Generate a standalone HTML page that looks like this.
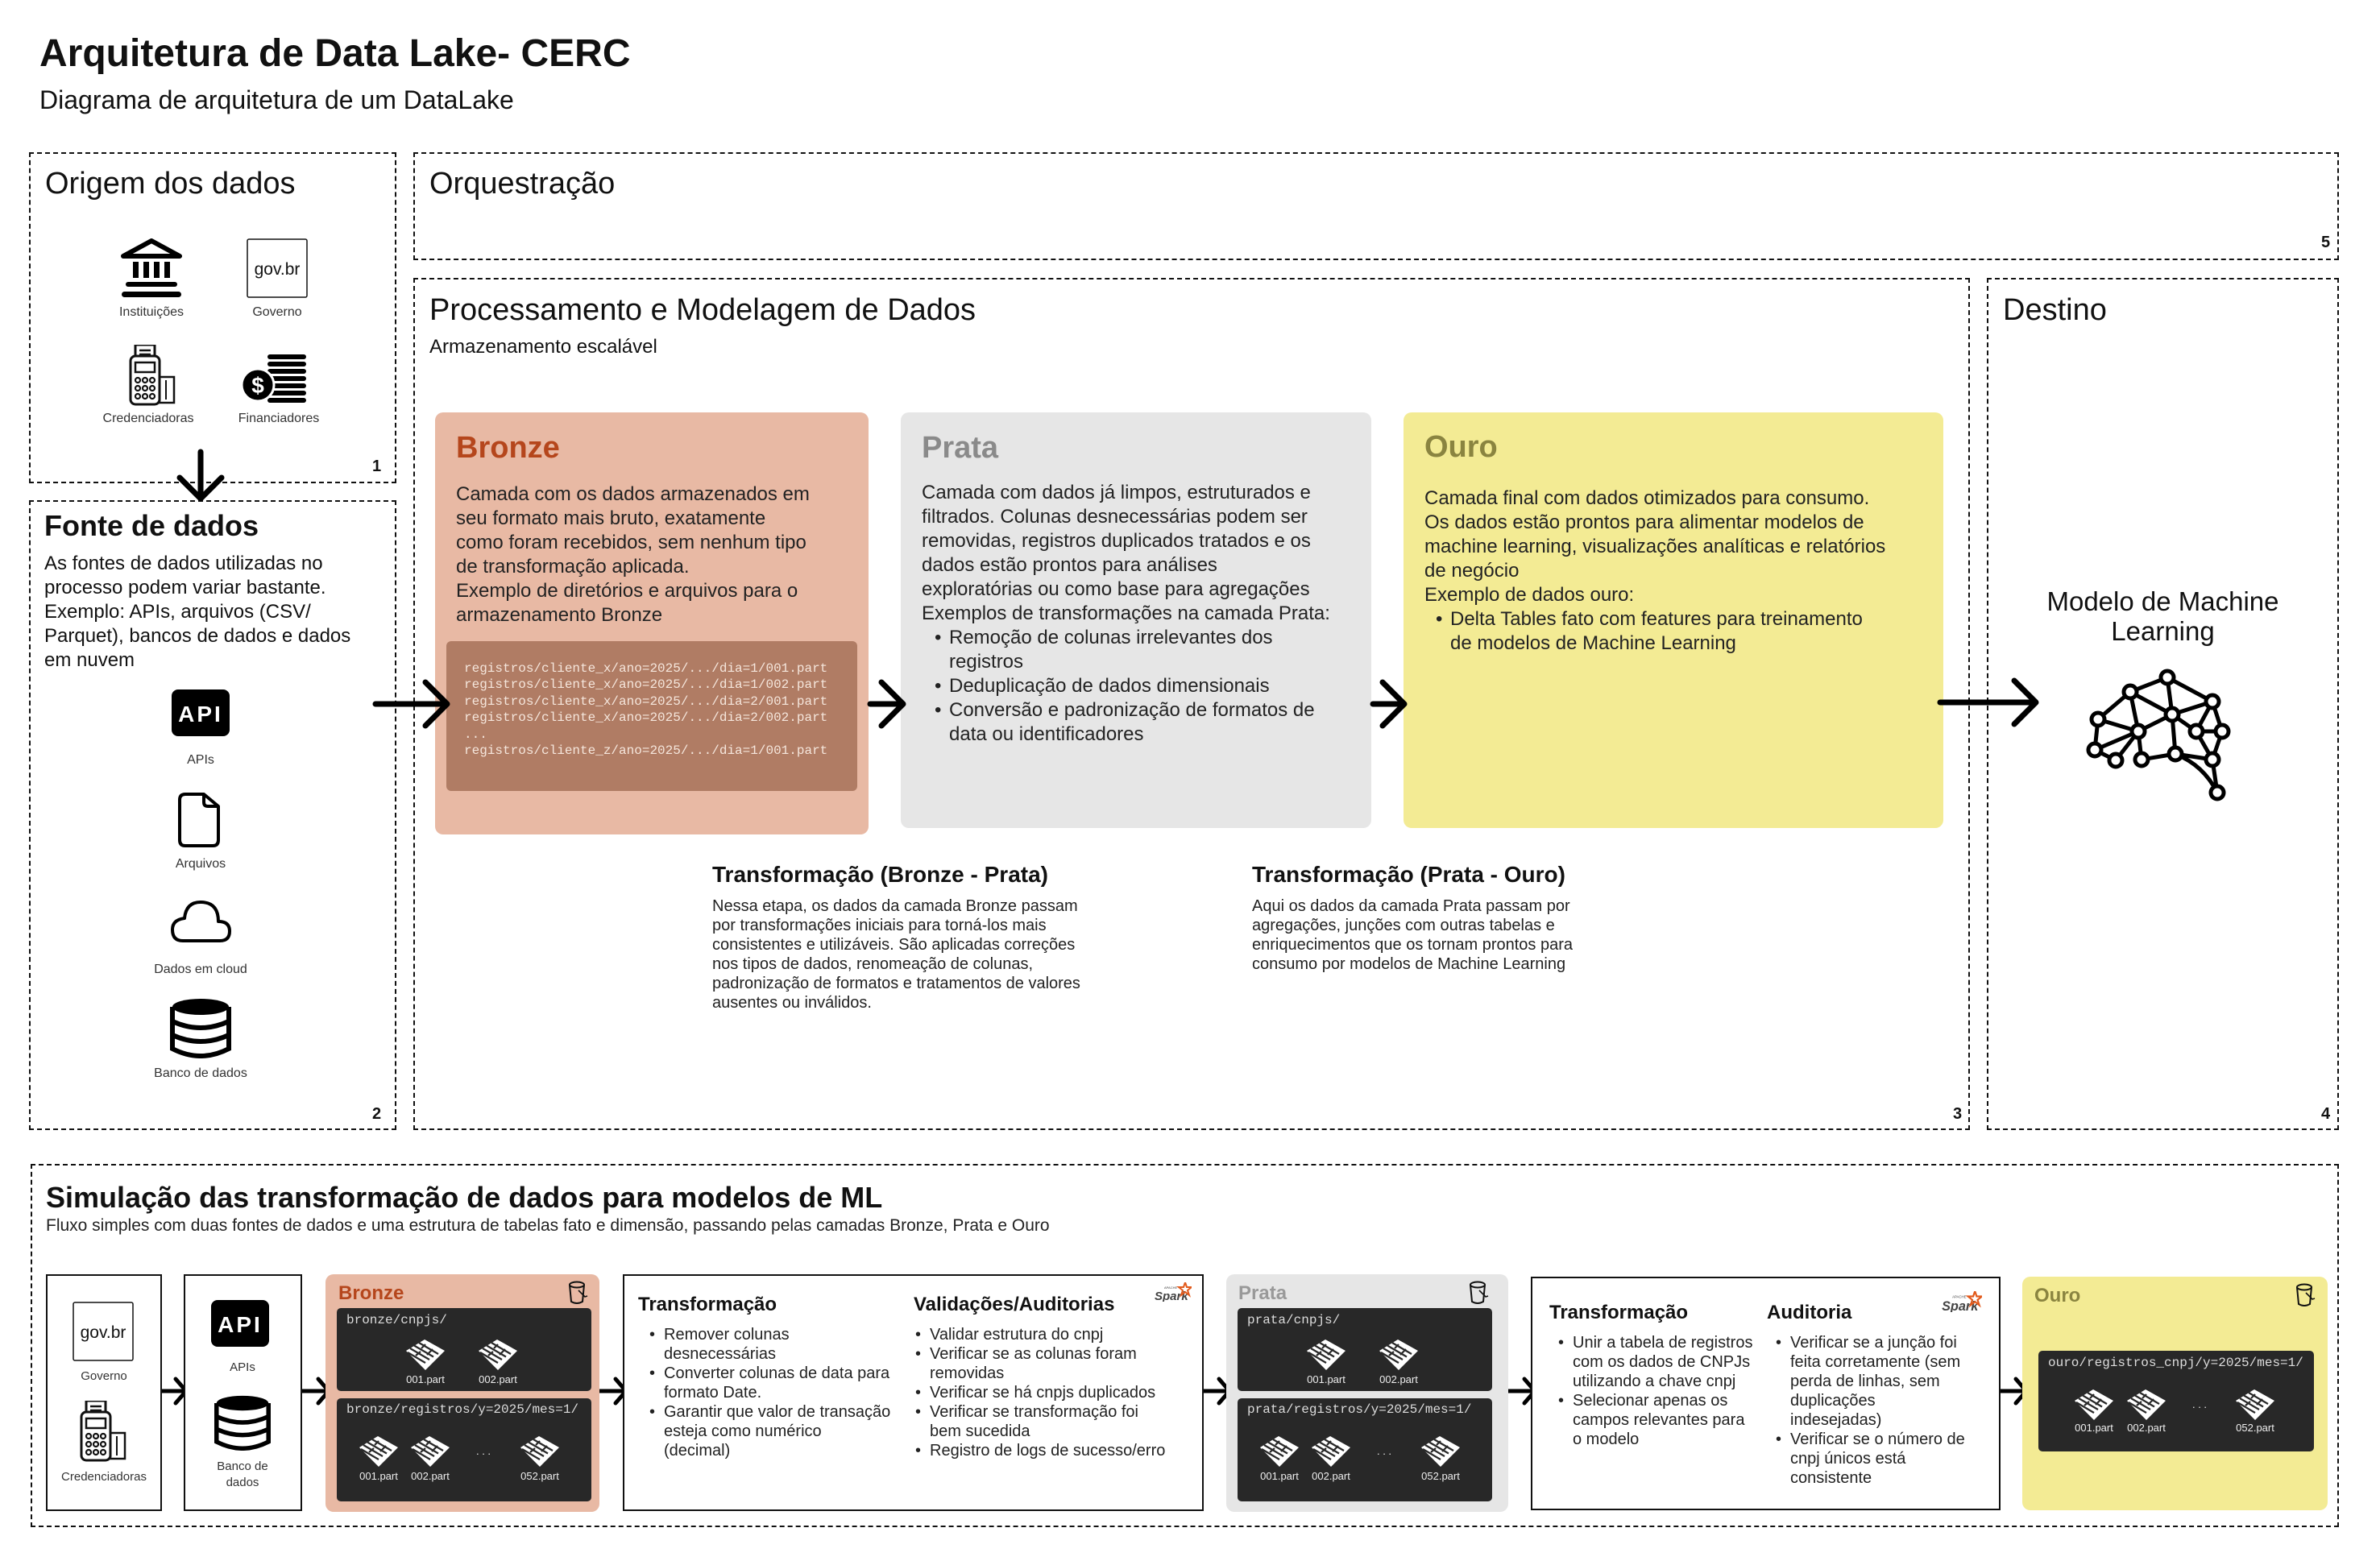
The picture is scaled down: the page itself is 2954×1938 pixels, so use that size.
<!DOCTYPE html>
<html><head><meta charset="utf-8">
<style>
*{margin:0;padding:0;box-sizing:border-box}
body{width:2954px;height:1938px;background:#fff;position:relative;overflow:hidden;font-family:"Liberation Sans",sans-serif;color:#111}
.a{position:absolute;white-space:nowrap}
.dash{position:absolute;border:2px dashed #111}
.card{position:absolute;border-radius:10px}
.box{position:absolute;border:2px solid #111;background:#fff}
.dark{position:absolute;background:#282828;border-radius:5px}
.mono{font-family:"Liberation Mono",monospace}
.lbl{font-size:16px;color:#333;text-align:center}
ul{list-style:none}
.bl li{position:relative;padding-left:18px}
.bl li:before{content:"•";position:absolute;left:0}
</style></head><body>
<svg width="0" height="0" style="position:absolute">
<defs>
<symbol id="pq" viewBox="0 0 48 38">
<polygon points="23,0 48,14 24,38 0,14" fill="#fff"/>
<g stroke="#282828" stroke-width="2.2">
<line x1="16" y1="4" x2="40" y2="18"/><line x1="10" y1="7.5" x2="34" y2="21.5"/><line x1="5" y1="11" x2="29" y2="25"/><line x1="2" y1="16" x2="24" y2="29"/>
<line x1="24" y1="6" x2="19" y2="11"/><line x1="33" y1="12" x2="26" y2="19"/><line x1="18" y1="15" x2="12" y2="20"/>
</g>
</symbol>
<symbol id="bk" viewBox="0 0 26 30">
<ellipse cx="12" cy="5" rx="9" ry="3.5" fill="none" stroke="#111" stroke-width="2"/>
<path d="M3 5 L5 26 Q12 30 19 26 L21 5" fill="none" stroke="#111" stroke-width="2"/>
<path d="M14 12 L22 20 L25 19" fill="none" stroke="#111" stroke-width="1.6"/>
</symbol>
<symbol id="sp" viewBox="0 0 46 24">
<text x="0" y="22" font-family="Liberation Sans" font-size="15" font-style="italic" font-weight="bold" fill="#444">Spark</text>
<text x="12" y="8" font-family="Liberation Sans" font-size="4" fill="#444">APACHE</text>
<polygon points="38,0 40,6 46,6 41,10 43,16 38,12 33,16 35,10 30,6 36,6" fill="none" stroke="#e25a1c" stroke-width="2"/>
</symbol>
<symbol id="api" viewBox="0 0 72 58">
<rect x="0" y="0" width="72" height="58" rx="8" fill="#000"/>
<text x="36" y="40" text-anchor="middle" font-family="Liberation Sans" font-weight="bold" font-size="28" fill="#fff" letter-spacing="3">API</text>
</symbol>
<symbol id="db" viewBox="0 0 76 76">
<path d="M3 12 L3 64 Q38 82 73 64 L73 12" fill="#fff" stroke="#000" stroke-width="6"/>
<ellipse cx="38" cy="12" rx="35" ry="10" fill="#000"/>
<path d="M3 30 Q38 46 73 30 M3 47 Q38 63 73 47" fill="none" stroke="#000" stroke-width="6"/>
</symbol>
<symbol id="pos" viewBox="0 0 60 76">
<rect x="8" y="0" width="24" height="18" fill="none" stroke="#111" stroke-width="3"/>
<path d="M13 7h14M13 12h14" stroke="#111" stroke-width="2.5"/>
<rect x="2" y="14" width="36" height="60" rx="6" fill="#fff" stroke="#111" stroke-width="3"/>
<rect x="8" y="22" width="24" height="12" fill="none" stroke="#111" stroke-width="2.5"/>
<g fill="none" stroke="#111" stroke-width="2.2"><circle cx="11" cy="44" r="3"/><circle cx="20" cy="44" r="3"/><circle cx="29" cy="44" r="3"/><circle cx="11" cy="54" r="3"/><circle cx="20" cy="54" r="3"/><circle cx="29" cy="54" r="3"/><circle cx="11" cy="64" r="3"/><circle cx="20" cy="64" r="3"/><circle cx="29" cy="64" r="3"/></g>
<rect x="38" y="40" width="18" height="32" fill="none" stroke="#111" stroke-width="2.5"/>
<path d="M46 44v24" stroke="#111" stroke-width="2"/>
</symbol>
<symbol id="gov" viewBox="0 0 76 74">
<rect x="1" y="1" width="74" height="72" rx="2" fill="#fff" stroke="#111" stroke-width="1.5"/>
<text x="38" y="45" text-anchor="middle" font-family="Liberation Sans" font-size="21" fill="#111">gov.br</text>
</symbol>
</defs>
</svg>

<div class="a" style="left:49px;top:39px;font-size:48px;font-weight:bold">Arquitetura de Data Lake- CERC</div>
<div class="a" style="left:49px;top:106px;font-size:32px">Diagrama de arquitetura de um DataLake</div>

<div class="dash" style="left:36px;top:189px;width:456px;height:411px"></div>
<div class="dash" style="left:513px;top:189px;width:2390px;height:134px"></div>
<div class="dash" style="left:36px;top:621px;width:456px;height:782px"></div>
<div class="dash" style="left:513px;top:345px;width:1932px;height:1058px"></div>
<div class="dash" style="left:2466px;top:345px;width:437px;height:1058px"></div>
<div class="dash" style="left:38px;top:1445px;width:2865px;height:451px"></div>

<div class="a" style="left:56px;top:207px;font-size:38px">Origem dos dados</div>
<div class="a" style="left:533px;top:207px;font-size:38px">Orquestração</div>
<div class="a" style="left:533px;top:364px;font-size:38px">Processamento e Modelagem de Dados</div>
<div class="a" style="left:533px;top:417px;font-size:24px">Armazenamento escalável</div>
<div class="a" style="left:2486px;top:364px;font-size:38px">Destino</div>
<div class="a" style="left:55px;top:632px;font-size:36px;font-weight:bold">Fonte de dados</div>

<div class="a" style="left:462px;top:568px;font-size:20px;font-weight:bold">1</div>
<div class="a" style="left:462px;top:1372px;font-size:20px;font-weight:bold">2</div>
<div class="a" style="left:2424px;top:1372px;font-size:20px;font-weight:bold">3</div>
<div class="a" style="left:2881px;top:1372px;font-size:20px;font-weight:bold">4</div>
<div class="a" style="left:2881px;top:290px;font-size:20px;font-weight:bold">5</div>

<svg class="a" style="left:150px;top:296px" width="76" height="74" viewBox="0 0 76 74">
<polygon points="38,3 73,22 3,22" fill="none" stroke="#000" stroke-width="6" stroke-linejoin="round"/>
<g fill="#000"><rect x="15" y="29" width="7" height="20"/><rect x="28" y="29" width="7" height="20"/><rect x="41" y="29" width="7" height="20"/><rect x="54" y="29" width="7" height="20"/>
<rect x="6" y="54" width="64" height="6" rx="3"/><rect x="1" y="66" width="74" height="7" rx="3.5"/></g>
</svg>
<svg class="a" style="left:306px;top:296px" width="76" height="74"><use href="#gov"/></svg>
<div class="a lbl" style="left:128px;top:379px;width:120px">Instituições</div>
<div class="a lbl" style="left:284px;top:379px;width:120px">Governo</div>
<svg class="a" style="left:160px;top:428px" width="60" height="76"><use href="#pos"/></svg>
<svg class="a" style="left:300px;top:440px" width="80" height="60" viewBox="0 0 80 60">
<g fill="#000"><rect x="32" y="0" width="48" height="6" rx="3"/><rect x="32" y="9" width="48" height="6" rx="3"/><rect x="32" y="18" width="48" height="6" rx="3"/><rect x="32" y="27" width="48" height="6" rx="3"/><rect x="32" y="36" width="48" height="6" rx="3"/><rect x="32" y="45" width="48" height="6" rx="3"/><rect x="32" y="54" width="48" height="6" rx="3"/></g>
<circle cx="20" cy="38" r="20" fill="#000" stroke="#fff" stroke-width="3"/>
<text x="20" y="48" text-anchor="middle" font-family="Liberation Sans" font-weight="bold" font-size="28" fill="#fff">$</text>
</svg>
<div class="a lbl" style="left:124px;top:511px;width:120px">Credenciadoras</div>
<div class="a lbl" style="left:286px;top:511px;width:120px">Financiadores</div>

<div class="a" style="left:55px;top:685px;font-size:24px;line-height:30px;white-space:normal;width:420px">As fontes de dados utilizadas no<br>processo podem variar bastante.<br>Exemplo: APIs, arquivos (CSV/<br>Parquet), bancos de dados e dados<br>em nuvem</div>
<svg class="a" style="left:213px;top:856px" width="72" height="58"><use href="#api"/></svg>
<div class="a lbl" style="left:189px;top:935px;width:120px">APIs</div>
<svg class="a" style="left:220px;top:983px" width="54" height="70" viewBox="0 0 54 70"><path d="M10 3 H33 L51 18 V60 Q51 67 44 67 H10 Q3 67 3 60 V10 Q3 3 10 3 Z M33 3 V13 Q33 18 38 18 H51" fill="none" stroke="#000" stroke-width="4" stroke-linejoin="round"/></svg>
<div class="a lbl" style="left:189px;top:1064px;width:120px">Arquivos</div>
<svg class="a" style="left:211px;top:1116px" width="76" height="56" viewBox="0 0 76 56"><path d="M16 52 H62 Q74 52 74 40 Q74 28 60 28 Q60 4 38 4 Q20 4 18 24 Q3 26 3 38 Q3 52 16 52 Z" fill="none" stroke="#000" stroke-width="4" stroke-linejoin="round"/></svg>
<div class="a lbl" style="left:169px;top:1195px;width:160px">Dados em cloud</div>
<svg class="a" style="left:211px;top:1238px" width="76" height="76"><use href="#db"/></svg>
<div class="a lbl" style="left:169px;top:1324px;width:160px">Banco de dados</div>

<div class="card" style="left:540px;top:512px;width:538px;height:524px;background:#e8b9a4"></div>
<div class="a" style="left:566px;top:535px;font-size:38px;font-weight:bold;color:#b5461c">Bronze</div>
<div class="a" style="left:566px;top:599px;font-size:24px;line-height:30px;color:#222">Camada com os dados armazenados em<br>seu formato mais bruto, exatamente<br>como foram recebidos, sem nenhum tipo<br>de transformação aplicada.<br>Exemplo de diretórios e arquivos para o<br>armazenamento Bronze</div>
<div class="card" style="left:554px;top:796px;width:510px;height:186px;background:#b07c64;border-radius:6px"></div>
<div class="a mono" style="left:576px;top:820px;font-size:16px;line-height:20.4px;color:#f5e6dc">registros/cliente_x/ano=2025/.../dia=1/001.part<br>registros/cliente_x/ano=2025/.../dia=1/002.part<br>registros/cliente_x/ano=2025/.../dia=2/001.part<br>registros/cliente_x/ano=2025/.../dia=2/002.part<br>...<br>registros/cliente_z/ano=2025/.../dia=1/001.part</div>

<div class="card" style="left:1118px;top:512px;width:584px;height:516px;background:#e6e6e6"></div>
<div class="a" style="left:1144px;top:535px;font-size:38px;font-weight:bold;color:#8a8a8a">Prata</div>
<div class="a" style="left:1144px;top:597px;font-size:24px;line-height:30px;color:#222">Camada com dados já limpos, estruturados e<br>filtrados. Colunas desnecessárias podem ser<br>removidas, registros duplicados tratados e os<br>dados estão prontos para análises<br>exploratórias ou como base para agregações<br>Exemplos de transformações na camada Prata:</div>
<ul class="a bl" style="left:1160px;top:777px;font-size:24px;line-height:30px;color:#222">
<li>Remoção de colunas irrelevantes dos<br>registros</li><li>Deduplicação de dados dimensionais</li><li>Conversão e padronização de formatos de<br>data ou identificadores</li></ul>

<div class="card" style="left:1742px;top:512px;width:670px;height:516px;background:#f3eb94"></div>
<div class="a" style="left:1768px;top:534px;font-size:38px;font-weight:bold;color:#8a8440">Ouro</div>
<div class="a" style="left:1768px;top:604px;font-size:24px;line-height:30px;color:#222">Camada final com dados otimizados para consumo.<br>Os dados estão prontos para alimentar modelos de<br>machine learning, visualizações analíticas e relatórios<br>de negócio<br>Exemplo de dados ouro:</div>
<ul class="a bl" style="left:1782px;top:754px;font-size:24px;line-height:30px;color:#222">
<li>Delta Tables fato com features para treinamento<br>de modelos de Machine Learning</li></ul>

<div class="a" style="left:884px;top:1070px;font-size:28px;font-weight:bold">Transformação (Bronze - Prata)</div>
<div class="a" style="left:884px;top:1113px;font-size:20px;line-height:24px;color:#222">Nessa etapa, os dados da camada Bronze passam<br>por transformações iniciais para torná-los mais<br>consistentes e utilizáveis. São aplicadas correções<br>nos tipos de dados, renomeação de colunas,<br>padronização de formatos e tratamentos de valores<br>ausentes ou inválidos.</div>
<div class="a" style="left:1554px;top:1070px;font-size:28px;font-weight:bold">Transformação (Prata - Ouro)</div>
<div class="a" style="left:1554px;top:1113px;font-size:20px;line-height:24px;color:#222">Aqui os dados da camada Prata passam por<br>agregações, junções com outras tabelas e<br>enriquecimentos que os tornam prontos para<br>consumo por modelos de Machine Learning</div>

<div class="a" style="left:2466px;top:728px;width:437px;text-align:center;font-size:33px;line-height:37px">Modelo de Machine<br>Learning</div>
<svg class="a" style="left:0;top:0" width="2954" height="1938">
<g stroke="#000" stroke-width="5" fill="none">
<path d="M2644 859L2690 841L2746 871M2690 841L2696 887M2644 859L2696 887M2644 859L2604 893M2644 859L2654 908M2746 871L2696 887M2746 871L2758 908M2746 871L2726 908M2604 893L2654 908M2604 893L2600 931M2696 887L2654 908M2696 887L2726 908M2696 887L2700 936M2654 908L2600 931M2654 908L2658 943M2726 908L2758 908M2726 908L2746 943M2758 908L2746 943M2600 931L2626 944M2658 943L2700 936M2700 936L2746 943M2700 936Q2735 950 2752 984M2746 943L2752 984M2654 908L2626 944"/>
</g>
<g stroke="#000" stroke-width="5" fill="#fff">
<circle cx="2690" cy="841" r="8"/><circle cx="2644" cy="859" r="8"/><circle cx="2746" cy="871" r="8"/><circle cx="2604" cy="893" r="8"/><circle cx="2696" cy="887" r="8"/><circle cx="2654" cy="908" r="8"/><circle cx="2726" cy="908" r="8"/><circle cx="2758" cy="908" r="8"/><circle cx="2600" cy="931" r="8"/><circle cx="2626" cy="944" r="8"/><circle cx="2658" cy="943" r="8"/><circle cx="2700" cy="936" r="8"/><circle cx="2746" cy="943" r="8"/><circle cx="2752" cy="984" r="8"/>
</g>
<g stroke="#000" stroke-width="7" fill="none" stroke-linecap="round" stroke-linejoin="round">
<line x1="249" y1="561" x2="249" y2="617"/><polyline points="223,593 249,619 275,593"/>
<line x1="466" y1="874" x2="552" y2="874"/><polyline points="528,847 555,874 528,901"/>
<line x1="1080" y1="874" x2="1118" y2="874"/><polyline points="1094,847 1121,874 1094,901"/>
<line x1="1704" y1="874" x2="1740" y2="874"/><polyline points="1716,847 1743,874 1716,901"/>
<line x1="2408" y1="872" x2="2524" y2="872"/><polyline points="2500,845 2527,872 2500,899"/>
</g>
<g stroke="#000" stroke-width="5" fill="none" stroke-linecap="round" stroke-linejoin="round">
<line x1="200" y1="1727" x2="229" y2="1727"/><polyline points="218,1712 231,1727 218,1742"/>
<line x1="375" y1="1727" x2="406" y2="1727"/><polyline points="395,1712 408,1727 395,1742"/>
<line x1="744" y1="1727" x2="775" y2="1727"/><polyline points="764,1712 777,1727 764,1742"/>
<line x1="1493" y1="1727" x2="1524" y2="1727"/><polyline points="1513,1712 1526,1727 1513,1742"/>
<line x1="1872" y1="1727" x2="1903" y2="1727"/><polyline points="1892,1712 1905,1727 1892,1742"/>
<line x1="2482" y1="1727" x2="2513" y2="1727"/><polyline points="2502,1712 2515,1727 2502,1742"/>
</g>
</svg>

<div class="a" style="left:57px;top:1466px;font-size:36px;font-weight:bold">Simulação das transformação de dados para modelos de ML</div>
<div class="a" style="left:57px;top:1510px;font-size:21px;color:#222">Fluxo simples com duas fontes de dados e uma estrutura de tabelas fato e dimensão, passando pelas camadas Bronze, Prata e Ouro</div>

<div class="box" style="left:57px;top:1582px;width:144px;height:294px"></div>
<svg class="a" style="left:90px;top:1616px" width="76" height="74"><use href="#gov"/></svg>
<div class="a lbl" style="left:69px;top:1700px;width:120px;font-size:15px">Governo</div>
<svg class="a" style="left:99px;top:1739px" width="60" height="76"><use href="#pos"/></svg>
<div class="a lbl" style="left:59px;top:1825px;width:140px;font-size:15px">Credenciadoras</div>

<div class="box" style="left:228px;top:1582px;width:147px;height:294px"></div>
<svg class="a" style="left:262px;top:1614px" width="72" height="58"><use href="#api"/></svg>
<div class="a lbl" style="left:241px;top:1689px;width:120px;font-size:15px">APIs</div>
<svg class="a" style="left:266px;top:1731px" width="70" height="70"><use href="#db"/></svg>
<div class="a lbl" style="left:241px;top:1811px;width:120px;font-size:15px;line-height:20px;white-space:normal">Banco de<br>dados</div>

<div class="card" style="left:404px;top:1582px;width:340px;height:295px;background:#e8b9a4"></div>
<div class="a" style="left:420px;top:1592px;font-size:24px;font-weight:bold;color:#b5461c">Bronze</div>
<svg class="a" style="left:704px;top:1590px" width="26" height="30"><use href="#bk"/></svg>
<div class="dark" style="left:418px;top:1624px;width:316px;height:103px"></div>
<div class="a mono" style="left:430px;top:1630px;font-size:16px;color:#ddd">bronze/cnpjs/</div>
<div class="dark" style="left:418px;top:1736px;width:316px;height:128px"></div>
<div class="a mono" style="left:430px;top:1741px;font-size:16px;color:#ddd">bronze/registros/y=2025/mes=1/</div>

<div class="box" style="left:773px;top:1582px;width:721px;height:294px"></div>
<svg class="a" style="left:1433px;top:1592px" width="46" height="24"><use href="#sp"/></svg>
<div class="a" style="left:792px;top:1606px;font-size:24px;font-weight:bold">Transformação</div>
<div class="a" style="left:1134px;top:1606px;font-size:24px;font-weight:bold">Validações/Auditorias</div>
<ul class="a bl" style="left:806px;top:1645px;font-size:20px;line-height:24px;color:#222">
<li>Remover colunas<br>desnecessárias</li><li>Converter colunas de data para<br>formato Date.</li><li>Garantir que valor de transação<br>esteja como numérico<br>(decimal)</li></ul>
<ul class="a bl" style="left:1136px;top:1645px;font-size:20px;line-height:24px;color:#222">
<li>Validar estrutura do cnpj</li><li>Verificar se as colunas foram<br>removidas</li><li>Verificar se há cnpjs duplicados</li><li>Verificar se transformação foi<br>bem sucedida</li><li>Registro de logs de sucesso/erro</li></ul>

<div class="card" style="left:1522px;top:1582px;width:350px;height:295px;background:#e6e6e6"></div>
<div class="a" style="left:1537px;top:1592px;font-size:24px;font-weight:bold;color:#999">Prata</div>
<svg class="a" style="left:1822px;top:1590px" width="26" height="30"><use href="#bk"/></svg>
<div class="dark" style="left:1536px;top:1624px;width:316px;height:103px"></div>
<div class="a mono" style="left:1548px;top:1630px;font-size:16px;color:#ddd">prata/cnpjs/</div>
<div class="dark" style="left:1536px;top:1736px;width:316px;height:128px"></div>
<div class="a mono" style="left:1548px;top:1741px;font-size:16px;color:#ddd">prata/registros/y=2025/mes=1/</div>

<div class="box" style="left:1900px;top:1585px;width:583px;height:290px"></div>
<svg class="a" style="left:2410px;top:1603px" width="50" height="26"><use href="#sp"/></svg>
<div class="a" style="left:1923px;top:1616px;font-size:24px;font-weight:bold">Transformação</div>
<div class="a" style="left:2193px;top:1616px;font-size:24px;font-weight:bold">Auditoria</div>
<ul class="a bl" style="left:1934px;top:1655px;font-size:20px;line-height:24px;color:#222">
<li>Unir a tabela de registros<br>com os dados de CNPJs<br>utilizando a chave cnpj</li><li>Selecionar apenas os<br>campos relevantes para<br>o modelo</li></ul>
<ul class="a bl" style="left:2204px;top:1655px;font-size:20px;line-height:24px;color:#222">
<li>Verificar se a junção foi<br>feita corretamente (sem<br>perda de linhas, sem<br>duplicações<br>indesejadas)</li><li>Verificar se o número de<br>cnpj únicos está<br>consistente</li></ul>

<div class="card" style="left:2510px;top:1585px;width:379px;height:290px;background:#f3eb94"></div>
<div class="a" style="left:2525px;top:1595px;font-size:24px;font-weight:bold;color:#8a8440">Ouro</div>
<svg class="a" style="left:2848px;top:1593px" width="26" height="30"><use href="#bk"/></svg>
<div class="dark" style="left:2530px;top:1677px;width:342px;height:125px"></div>
<div class="a mono" style="left:2542px;top:1683px;font-size:16px;color:#ddd">ouro/registros_cnpj/y=2025/mes=1/</div>

<svg class="a" style="left:0;top:0" width="2954" height="1938">
<use href="#pq" x="504" y="1663" width="48" height="38"/><use href="#pq" x="594" y="1663" width="48" height="38"/>
<use href="#pq" x="446" y="1783" width="48" height="38"/><use href="#pq" x="510" y="1783" width="48" height="38"/><use href="#pq" x="646" y="1783" width="48" height="38"/>
<use href="#pq" x="1622" y="1663" width="48" height="38"/><use href="#pq" x="1712" y="1663" width="48" height="38"/>
<use href="#pq" x="1564" y="1783" width="48" height="38"/><use href="#pq" x="1628" y="1783" width="48" height="38"/><use href="#pq" x="1764" y="1783" width="48" height="38"/>
<use href="#pq" x="2575" y="1725" width="48" height="38"/><use href="#pq" x="2640" y="1725" width="48" height="38"/><use href="#pq" x="2775" y="1725" width="48" height="38"/>
<g font-family="Liberation Sans" font-size="13" fill="#eee" text-anchor="middle">
<text x="528" y="1717">001.part</text><text x="618" y="1717">002.part</text>
<text x="470" y="1837">001.part</text><text x="534" y="1837">002.part</text><text x="600" y="1806">. . .</text><text x="670" y="1837">052.part</text>
<text x="1646" y="1717">001.part</text><text x="1736" y="1717">002.part</text>
<text x="1588" y="1837">001.part</text><text x="1652" y="1837">002.part</text><text x="1718" y="1806">. . .</text><text x="1788" y="1837">052.part</text>
<text x="2599" y="1777">001.part</text><text x="2664" y="1777">002.part</text><text x="2730" y="1748">. . .</text><text x="2799" y="1777">052.part</text>
</g>
</svg>
</body></html>
